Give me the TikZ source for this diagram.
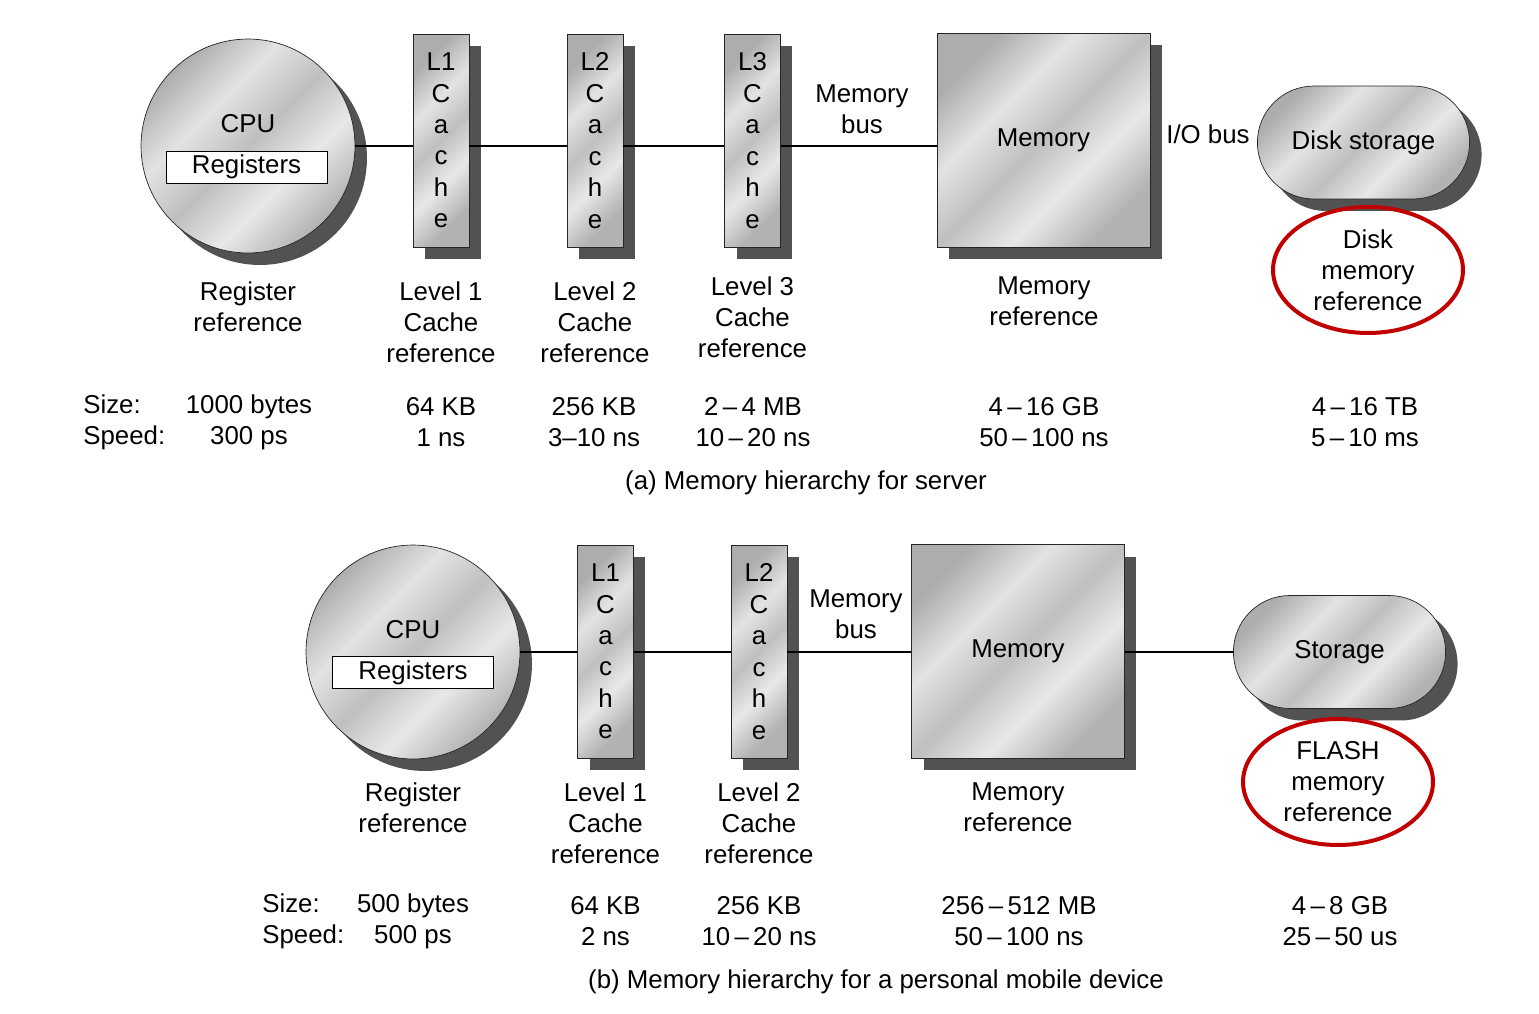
\documentclass[tikz,border=0pt]{standalone}
\usepackage{fontspec}
\setmainfont{Liberation Sans}
\usetikzlibrary{shapes.misc,shapes.geometric,shadows}

\definecolor{ringred}{RGB}{192,0,0}
\pgfdeclarehorizontalshading{metal}{100bp}{color(0bp)=(black!32); color(25bp)=(black!32);
  color(38bp)=(black!11); color(50bp)=(black!25); color(62bp)=(black!9); color(75bp)=(black!30); color(100bp)=(black!30)}
\newcommand\lblfont{\fontsize{14.7}{17.6}\selectfont}
\newcommand\cachefont{\fontsize{14.7}{17.9}\selectfont}

\begin{document}
\begin{tikzpicture}[x=0.02cm, y=-0.02cm,
    metal/.style={draw=black!85, shading=metal, shading angle=-45,
      drop shadow={shadow xshift=0.24cm, shadow yshift=-0.24cm, fill=black!68, opacity=1}},
    cpu/.style={metal, circle, minimum size=4.28cm, inner sep=0pt},
    cache/.style={metal, rectangle, minimum width=1.12cm, minimum height=4.26cm,
      inner sep=0pt, align=center, font=\cachefont},
    mem/.style={metal, rectangle, minimum width=4.26cm, minimum height=4.28cm, font=\lblfont},
    disk/.style={metal, rounded rectangle, minimum width=4.48cm, minimum height=2.26cm, font=\lblfont},
    regs/.style={draw, fill=white, minimum width=3.22cm, minimum height=0.64cm, inner sep=0pt, font=\lblfont},
    ring/.style={draw=ringred, line width=0.08cm, ellipse, minimum width=3.8cm, minimum height=2.52cm,
      inner sep=0pt, align=center, font=\lblfont},
    lbl/.style={align=center, inner sep=0pt, font=\lblfont},
    bus/.style={line width=0.045cm}]

  \useasboundingbox (0,0) rectangle (1539,1014);

  % (a) server: units
  \node[cpu] (cpuA) at (248,146) {};
  \node[lbl] (cpuTxtA) at (248,124) {CPU};
  \node[regs] (regA) at (246.5,167) {Registers};
  \node[cache] (l1A) at (441,140.5) {L1\\C\\a\\c\\h\\e};
  \node[cache] (l2A) at (595,140.5) {L2\\C\\a\\c\\h\\e};
  \node[cache] (l3A) at (752.5,140.5) {L3\\C\\a\\c\\h\\e};
  \node[mem] (memA) at (1043.5,140) {Memory};
  \node[disk] (diskA) at (1363.5,142.5) {Disk storage};

  % (a) buses
  \draw[bus] (cpuA.east) -- (cpuA.east -| l1A.west);
  \draw[bus] (l1A.east |- cpuA.east) -- (l2A.west |- cpuA.east);
  \draw[bus] (l2A.east |- cpuA.east) -- (l3A.west |- cpuA.east);
  \draw[bus] (l3A.east |- cpuA.east) -- (memA.west |- cpuA.east);
  \node[lbl] (mbusA) at (862,109.5) {Memory\\bus};
  \node[lbl] (iobusA) at (1208,134) {I/O bus};

  % (a) references
  \node[lbl] (refRegA) at (248,306.5) {Register\\reference};
  \node[lbl] (refL1A) at (441,322.5) {Level 1\\Cache\\reference};
  \node[lbl] (refL2A) at (595,322.5) {Level 2\\Cache\\reference};
  \node[lbl] (refL3A) at (752.5,317.5) {Level 3\\Cache\\reference};
  \node[lbl] (refMemA) at (1044,301.5) {Memory\\reference};
  \node[ring] (refDiskA) at (1368,270) {Disk\\memory\\reference};

  % (a) size and speed
  \node[lbl, anchor=west, align=left] (keyA) at (83,422) {Size:\\Speed:};
  \node[lbl] (valRegA) at (249,422) {1000 bytes\\300 ps};
  \node[lbl] (valL1A) at (441,422) {64 KB\\1 ns};
  \node[lbl] (valL2A) at (594,422) {256 KB\\3--10 ns};
  \node[lbl] (valL3A) at (753,422) {2\,--\,4 MB\\10\,--\,20 ns};
  \node[lbl] (valMemA) at (1044,422) {4\,--\,16 GB\\50\,--\,100 ns};
  \node[lbl] (valDiskA) at (1365,422) {4\,--\,16 TB\\5\,--\,10 ms};
  \node[lbl] (capA) at (806,483) {(a) Memory hierarchy for server};

  % (b) personal mobile device: units
  \node[cpu] (cpuB) at (413,652) {};
  \node[lbl] (cpuTxtB) at (413,630) {CPU};
  \node[regs] (regB) at (413,672.5) {Registers};
  \node[cache] (l1B) at (605.5,651.5) {L1\\C\\a\\c\\h\\e};
  \node[cache] (l2B) at (759,651.5) {L2\\C\\a\\c\\h\\e};
  \node[mem] (memB) at (1018,651.5) {Memory};
  \node[disk] (diskB) at (1339.5,652) {Storage};

  % (b) buses
  \draw[bus] (cpuB.east) -- (cpuB.east -| l1B.west);
  \draw[bus] (l1B.east |- cpuB.east) -- (l2B.west |- cpuB.east);
  \draw[bus] (l2B.east |- cpuB.east) -- (memB.west |- cpuB.east);
  \draw[bus] (memB.east |- cpuB.east) -- (diskB.west |- cpuB.east);
  \node[lbl] (mbusB) at (856,614) {Memory\\bus};

  % (b) references
  \node[lbl] (refRegB) at (413,807.5) {Register\\reference};
  \node[lbl] (refL1B) at (605.5,823.5) {Level 1\\Cache\\reference};
  \node[lbl] (refL2B) at (759,823.5) {Level 2\\Cache\\reference};
  \node[lbl] (refMemB) at (1018,807.5) {Memory\\reference};
  \node[ring] (refFlashB) at (1338,782) {FLASH\\memory\\reference};

  % (b) size and speed
  \node[lbl, anchor=west, align=left] (keyB) at (262,921.5) {Size:\\Speed:};
  \node[lbl] (valRegB) at (413,921.5) {500 bytes\\500 ps};
  \node[lbl] (valL1B) at (605.5,921.5) {64 KB\\2 ns};
  \node[lbl] (valL2B) at (759,921.5) {256 KB\\10\,--\,20 ns};
  \node[lbl] (valMemB) at (1019,921.5) {256\,--\,512 MB\\50\,--\,100 ns};
  \node[lbl] (valFlashB) at (1340,921.5) {4\,--\,8 GB\\25\,--\,50 us};
  \node[lbl] (capB) at (876,982) {(b) Memory hierarchy for a personal mobile device};
\end{tikzpicture}
\end{document}
